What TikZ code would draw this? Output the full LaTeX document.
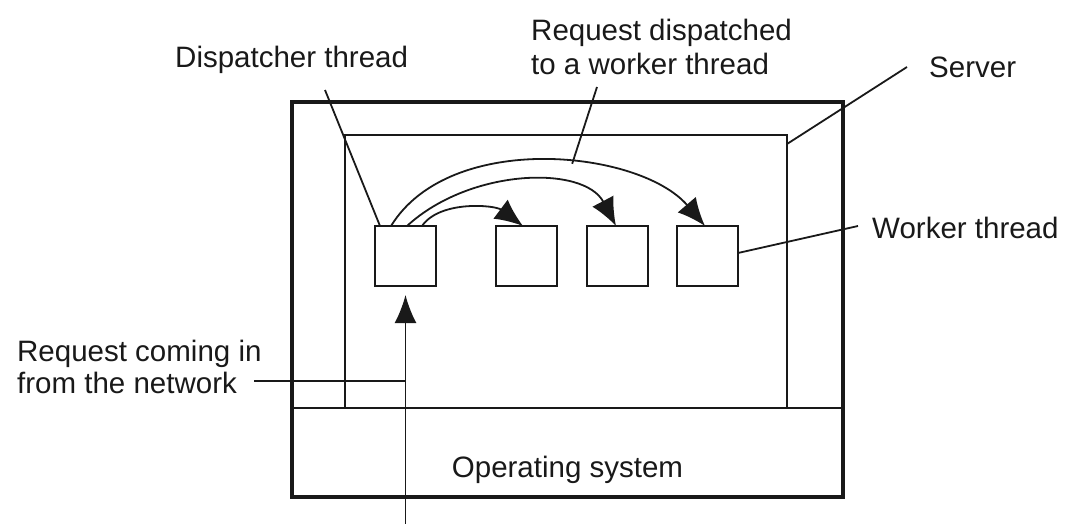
\documentclass[tikz,border=0pt]{standalone}
\usepackage{fontspec}
\setmainfont{Liberation Sans}
\usetikzlibrary{arrows.meta,calc}
\begin{document}
\begin{tikzpicture}[x=1pt,y=-1pt,
  thinline/.style={line width=1.8pt, draw=black!90},
  thickbox/.style={draw=black!90, line width=4pt, inner sep=0pt, outer sep=0pt},
  frame/.style={draw=black!90, line width=1.8pt, inner sep=0pt, outer sep=0pt},
  thr/.style={draw=black!90, line width=1.8pt, inner sep=0pt, outer sep=0pt, minimum width=61pt, minimum height=60pt},
  lbl/.style={inner sep=0pt, text=black!90, font=\fontsize{29.5}{34}\selectfont},
  bigtip/.style={-{Latex[length=28pt,width=24pt]}},
]
\useasboundingbox (0,0) rectangle (1090,524);

% boxes
\node[thickbox, minimum width=551pt, minimum height=395pt] (outer) at (567.5,299.5) {};
\node[frame, minimum width=442pt, minimum height=273pt] (server) at (566,271.5) {};
\draw[thinline] (outer.west |- server.south) -- (outer.east |- server.south);

\node[thr] (disp) at (405.5,256) {};
\node[thr] (w1) at (526.5,256) {};
\node[thr] (w2) at (617.5,256) {};
\node[thr] (w3) at (707.5,256) {};

% labels
\node[lbl, anchor=base west] (tdisp) at (175,68) {Dispatcher thread};
\node[lbl, anchor=base west] (treq1) at (531,41) {Request dispatched};
\node[lbl, anchor=base west] (treq2) at (531,75) {to a worker thread};
\node[lbl, anchor=base west] (tserv) at (929,78) {Server};
\node[lbl, anchor=base west] (twork) at (872,238) {Worker thread};
\node[lbl, anchor=base west] (tnet1) at (17,361) {Request coming in};
\node[lbl, anchor=base west] (tnet2) at (17,393) {from the network};
\node[lbl, anchor=base] (tos) at (567.5,477) {Operating system};

% dispatch arrows
\draw[thinline, bigtip] ([xshift=-14.5pt]disp.north) .. controls (450,130) and (640,150) .. coordinate[pos=0.57] (oncurve) ([xshift=-2.5pt]w3.north);
\draw[thinline, bigtip] ([xshift=1.5pt]disp.north) .. controls (470,168) and (584,165) .. ([xshift=-1.5pt]w2.north);
\draw[thinline, bigtip] ([xshift=16.5pt]disp.north) .. controls (440,200) and (495,205) .. ([xshift=-3.5pt]w1.north);

% incoming request
\coordinate (inb) at (405.5,524);
\draw[thinline, -{Latex[length=28pt,width=22pt]}] (inb) -- ([yshift=-9pt]disp.south);

% leader lines
\coordinate (ldisp) at (325,90);
\draw[thinline] (ldisp) -- ([xshift=-25.5pt]disp.north);
\coordinate (lreq) at (597,87);
\draw[thinline] (lreq) -- (oncurve);
\coordinate (lserv) at (907,67);
\draw[thinline] (lserv) -- ([yshift=-9pt]server.north east);
\coordinate (lwork) at (858,226);
\draw[thinline] (lwork) -- ([yshift=3pt]w3.east);
\coordinate (lnet) at (254,381);
\draw[thinline] (lnet) -- (inb |- lnet);
\end{tikzpicture}
\end{document}
